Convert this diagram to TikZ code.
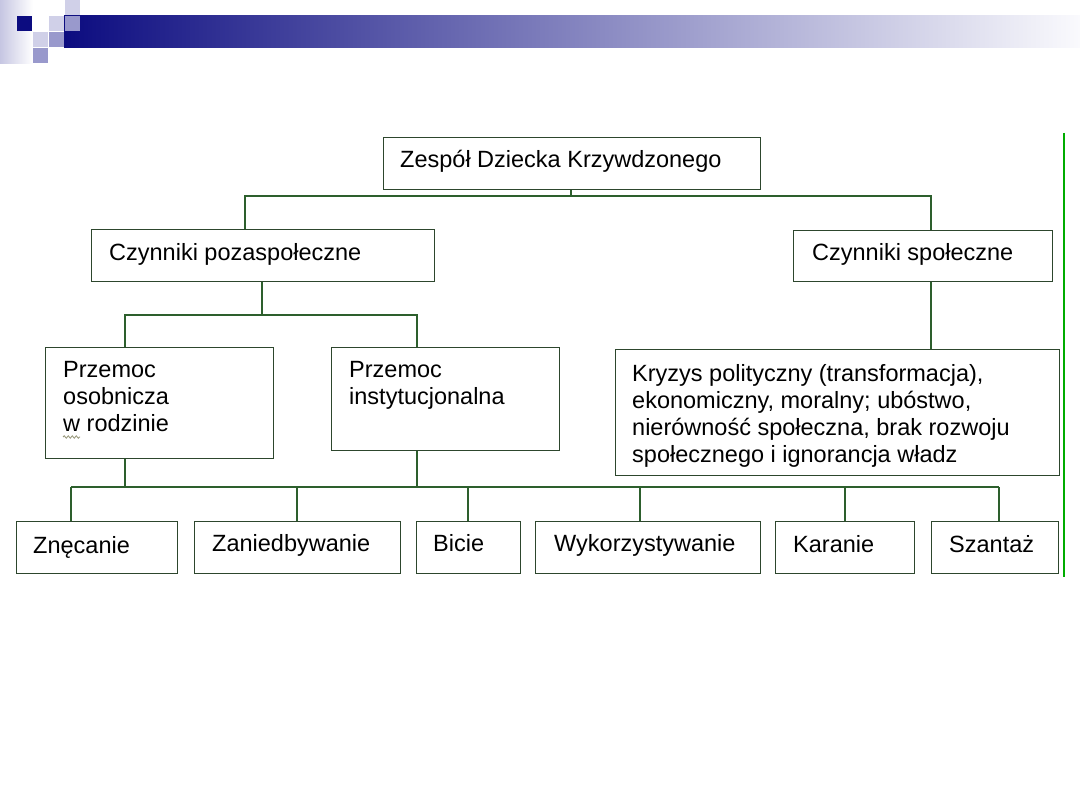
\documentclass[tikz,border=0pt]{standalone}
\usepackage{fontspec}
\setmainfont{Liberation Sans}
\usetikzlibrary{decorations.pathmorphing}
\definecolor{navy}{RGB}{12,12,128}
\definecolor{lightsq}{RGB}{208,208,232}
\definecolor{medsq}{RGB}{153,153,204}
\definecolor{pale}{RGB}{198,198,226}
\definecolor{connc}{RGB}{45,95,45}
\definecolor{boxc}{RGB}{45,70,45}
\definecolor{barend}{RGB}{250,250,253}
\definecolor{sidegreen}{RGB}{0,172,0}
\definecolor{squigc}{RGB}{150,150,120}
\begin{document}
\begin{tikzpicture}[x=1pt,y=-1pt,
  box/.style={draw=boxc, line width=1.3pt, fill=white, inner sep=0pt, anchor=north west},
  txt/.style={anchor=base west, inner sep=0pt, text=black, font=\fontsize{23.5}{27}\selectfont},
  conn/.style={draw=connc, line width=1.3pt},
  sq/.style={line width=0pt}]
\useasboundingbox (0,0) rectangle (1080,810);

% ---- header decoration ----
\fill[left color=pale, right color=white] (0,0) rectangle (33,64);
\fill[left color=navy, right color=barend] (64,16) rectangle (1080,48);
\fill[navy] (16.5,16.5) rectangle (31.5,31.5);
\fill[white] (32,16) rectangle (48,32);
\fill[lightsq] (48.5,16.5) rectangle (63.5,31.5);
\fill[medsq] (64.5,16.5) rectangle (79.5,31.5);
\fill[lightsq] (64.5,0) rectangle (79.5,15.5);
\fill[lightsq] (32.5,32.5) rectangle (47.5,47.5);
\fill[medsq] (48.5,32.5) rectangle (63.5,47.5);
\fill[medsq] (32.5,48.5) rectangle (47.5,63.5);

% ---- right green rule ----
\coordinate (gtop) at (1064,133);
\coordinate (gbot) at (1064,577);
\draw[sidegreen, line width=2.5pt] (gtop) -- (gbot);

% ---- junction coordinates ----
\coordinate (b1) at (571,196);
\coordinate (b1l) at (245,196);
\coordinate (b1r) at (931,196);
\coordinate (b2) at (262,315);
\coordinate (b2l) at (125,315);
\coordinate (b2r) at (417,315);
\coordinate (b3a) at (125,487);
\coordinate (b3b) at (417,487);
\coordinate (d1) at (71,487);
\coordinate (d2) at (297,487);
\coordinate (d3) at (468,487);
\coordinate (d4) at (640,487);
\coordinate (d5) at (845,487);
\coordinate (d6) at (999,487);

% ---- boxes ----
\node[box, minimum width=377, minimum height=52] (zdk) at (383,137) {};
\node[box, minimum width=343, minimum height=52] (cpoz) at (91,229) {};
\node[box, minimum width=259, minimum height=51] (cspo) at (793,230) {};
\node[box, minimum width=228, minimum height=111] (posob) at (45,347) {};
\node[box, minimum width=228, minimum height=103] (pinst) at (331,347) {};
\node[box, minimum width=444, minimum height=126] (kryz) at (615,349) {};
\node[box, minimum width=161, minimum height=52] (zn) at (16,521) {};
\node[box, minimum width=206, minimum height=52] (zan) at (194,521) {};
\node[box, minimum width=104, minimum height=52] (bic) at (416,521) {};
\node[box, minimum width=225, minimum height=52] (wyk) at (535,521) {};
\node[box, minimum width=139, minimum height=52] (kar) at (775,521) {};
\node[box, minimum width=127, minimum height=52] (sza) at (931,521) {};

% ---- connectors ----
\draw[conn] (b1 |- zdk.south) -- (b1);
\draw[conn] (b1l |- cpoz.north) -- (b1l) -- (b1r) -- (b1r |- cspo.north);
\draw[conn] (b2 |- cpoz.south) -- (b2);
\draw[conn] (b2l |- posob.north) -- (b2l) -- (b2r) -- (b2r |- pinst.north);
\draw[conn] (b1r |- cspo.south) -- (b1r |- kryz.north);
\draw[conn] (b3a |- posob.south) -- (b3a);
\draw[conn] (b3b |- pinst.south) -- (b3b);
\draw[conn] (d1) -- (d6);
\draw[conn] (d1) -- (d1 |- zn.north);
\draw[conn] (d2) -- (d2 |- zan.north);
\draw[conn] (d3) -- (d3 |- bic.north);
\draw[conn] (d4) -- (d4 |- wyk.north);
\draw[conn] (d5) -- (d5 |- kar.north);
\draw[conn] (d6) -- (d6 |- sza.north);

% ---- texts ----
\node[txt] (zdk-t) at (400,168) {Zespół Dziecka Krzywdzonego};
\node[txt] (cpoz-t) at (109,261) {Czynniki pozaspołeczne};
\node[txt] (cspo-t) at (812,261) {Czynniki społeczne};
\node[txt] (posob-t) at (63,378) {\begin{tabular}[t]{@{}l@{}}Przemoc\\osobnicza\\w rodzinie\end{tabular}};
\node[txt] (pinst-t) at (349,378) {\begin{tabular}[t]{@{}l@{}}Przemoc\\instytucjonalna\end{tabular}};
\node[txt] (kryz-t) at (632,382) {\begin{tabular}[t]{@{}l@{}}Kryzys polityczny (transformacja),\\ekonomiczny, moralny; ubóstwo,\\nierówność społeczna, brak rozwoju\\społecznego i ignorancja władz\end{tabular}};
\node[txt] (zn-t) at (33,553) {Znęcanie};
\node[txt] (zan-t) at (212,551) {Zaniedbywanie};
\node[txt] (bic-t) at (433,551) {Bicie};
\node[txt] (wyk-t) at (554,551) {Wykorzystywanie};
\node[txt] (kar-t) at (793,552) {Karanie};
\node[txt] (sza-t) at (949,552) {Szantaż};

% spell-check squiggle under "w"
\coordinate (sq1) at (63,437);
\coordinate (sq2) at (80,437);
\draw[squigc, line width=0.8pt, decorate, decoration={snake, amplitude=1.2pt, segment length=4pt}] (sq1) -- (sq2);
\end{tikzpicture}
\end{document}
